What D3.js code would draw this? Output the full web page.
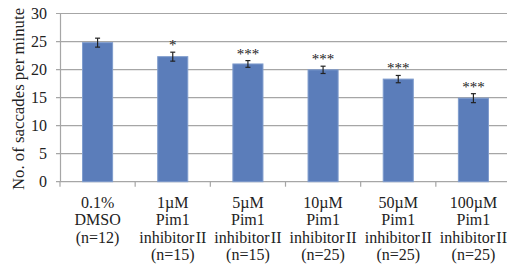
<!DOCTYPE html>
<html><head><meta charset="utf-8">
<script src="https://cdn.jsdelivr.net/npm/d3@7"></script>
<style>body{margin:0;background:#fff}svg{display:block}
svg text{font-family:"Liberation Serif","Times New Roman","DejaVu Serif",serif;}</style>
</head><body>
<script>
const categories = [
  ["0.1%","DMSO","(n=12)"],
  ["1\u00b5M","Pim1","inhibitor\u200aII","(n=15)"],
  ["5\u00b5M","Pim1","inhibitor\u200aII","(n=15)"],
  ["10\u00b5M","Pim1","inhibitor\u200aII","(n=25)"],
  ["50\u00b5M","Pim1","inhibitor\u200aII","(n=25)"],
  ["100\u00b5M","Pim1","inhibitor\u200aII","(n=25)"]
];
const values = [24.8, 22.3, 21.0, 19.95, 18.3, 14.9];
const errors = [0.8, 0.8, 0.6, 0.65, 0.65, 0.8];
const stars = ["", "*", "***", "***", "***", "***"];
const yTicks = [0, 5, 10, 15, 20, 25, 30];
const yTitle = "No. of saccades per minute";

const W = 507, H = 269;
const svg = d3.select("body").append("svg").attr("width", W).attr("height", H);
const ids = categories.map((d,i)=>i);
const x = d3.scaleBand().domain(ids).range([60, 511]).paddingInner(0.6).paddingOuter(0.3);
const y = d3.scaleLinear().domain([0, 30]).range([181.7, 13.5]);

// gridlines
svg.append("g").selectAll("line").data(yTicks).join("line")
  .attr("x1", 56).attr("x2", 511)
  .attr("y1", d => y(d)).attr("y2", d => y(d))
  .attr("stroke", "#a6a6a6").attr("stroke-width", 1.2);

// y axis line
svg.append("line").attr("x1", 60.5).attr("x2", 60.5).attr("y1", y(30)).attr("y2", y(0))
  .attr("stroke", "#a6a6a6").attr("stroke-width", 1.2);

// y tick labels
svg.append("g").selectAll("text").data(yTicks).join("text")
  .attr("x", 47).attr("y", d => y(d)).attr("dy", "0.35em")
  .attr("text-anchor", "end").attr("font-size", 16)
  .attr("fill", "#222").text(d => d);

// y title
svg.append("text").attr("transform", `translate(24,${99}) rotate(-90)`)
  .attr("text-anchor", "middle").attr("font-size", 16.8)
  .attr("fill", "#222").text(yTitle);

// x ticks at band boundaries
const step = x.step();
const bounds = d3.range(categories.length + 1).map(i => 60 + i * step);
svg.append("g").selectAll("line").data(bounds).join("line")
  .attr("x1", d => d).attr("x2", d => d).attr("y1", y(0)).attr("y2", y(0) + 5)
  .attr("stroke", "#a6a6a6").attr("stroke-width", 1.2);

// bars
svg.append("g").selectAll("rect").data(values).join("rect")
  .attr("x", (d,i) => x(i)).attr("width", x.bandwidth())
  .attr("y", d => y(d)).attr("height", d => y(0) - y(d))
  .attr("fill", "#5b7dba").attr("stroke", "#7f9ccd").attr("stroke-width", 1);

// error bars
const eg = svg.append("g").attr("stroke", "#222").attr("stroke-width", 1.2);
values.forEach((v,i) => {
  const cx = x(i) + x.bandwidth()/2;
  const t = y(v + errors[i]), b = y(v - errors[i]);
  eg.append("line").attr("x1", cx).attr("x2", cx).attr("y1", t).attr("y2", b);
  eg.append("line").attr("x1", cx-2.5).attr("x2", cx+2.5).attr("y1", t).attr("y2", t);
  eg.append("line").attr("x1", cx-2.5).attr("x2", cx+2.5).attr("y1", b).attr("y2", b);
});

// stars
svg.append("g").selectAll("text").data(values).join("text")
  .attr("x", (d,i) => x(i) + x.bandwidth()/2)
  .attr("y", (d,i) => y(d + errors[i]) - 2)
  .attr("text-anchor", "middle").attr("font-size", 15)
  .attr("fill", "#222").text((d,i) => stars[i]);

// x labels
const lg = svg.append("g").attr("font-size", 16).attr("fill", "#222");
categories.forEach((lines, i) => {
  const t = lg.append("text").attr("x", x(i) + x.bandwidth()/2).attr("text-anchor", "middle");
  lines.forEach((ln, j) => {
    t.append("tspan").attr("x", x(i) + x.bandwidth()/2).attr("y", 208 + j * 17.3).text(ln);
  });
});
</script>
</body></html>
